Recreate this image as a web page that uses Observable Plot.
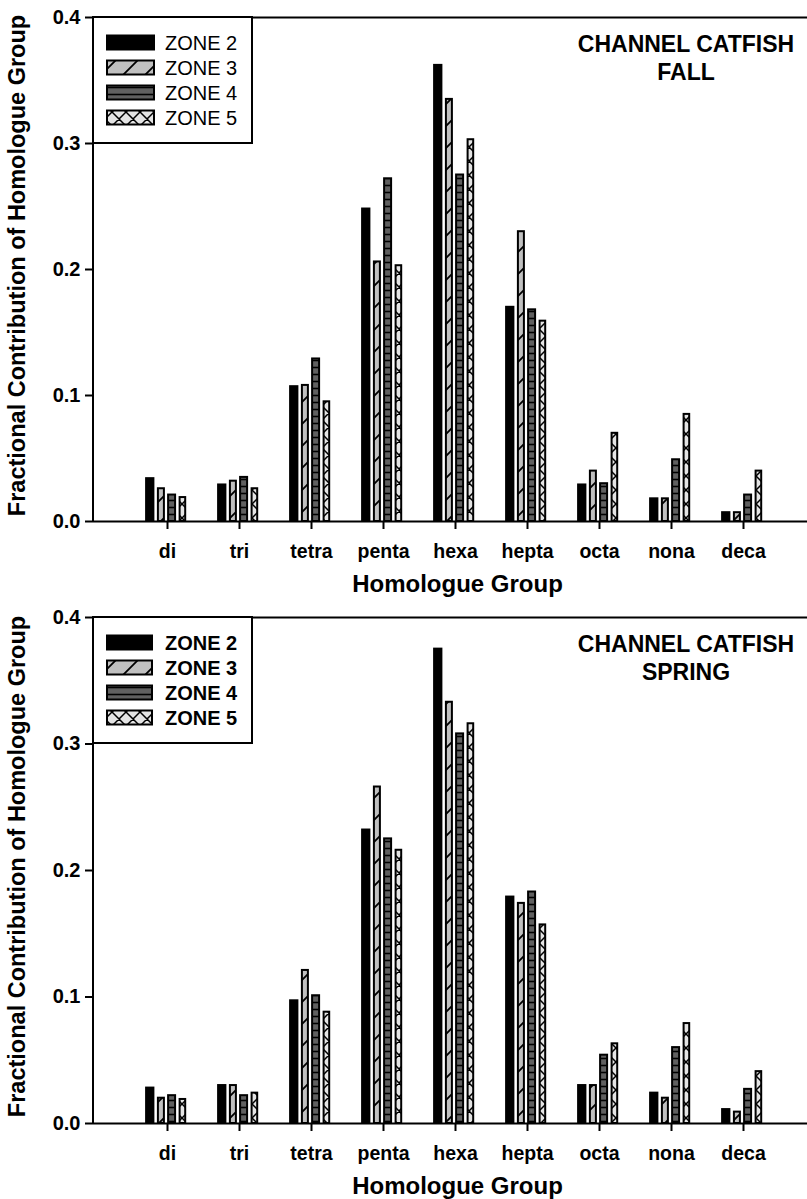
<!DOCTYPE html>
<html><head><meta charset="utf-8">
<script src="https://cdn.jsdelivr.net/npm/d3@7"></script>
<script src="https://cdn.jsdelivr.net/npm/@observablehq/plot@0.6"></script>
<style>
html,body{margin:0;padding:0;background:#fff;}
#charts svg{display:block;}
</style></head><body>
<svg width="0" height="0" style="position:absolute">
<defs>
<pattern id="pz3" patternUnits="userSpaceOnUse" width="22" height="22">
 <rect width="22" height="22" fill="#c0c0c0"/>
 <path d="M0,22 L22,0 M-3,3 L3,-3 M19,25 L25,19" stroke="#000" stroke-width="1.8" fill="none"/>
</pattern>
<pattern id="pz4" patternUnits="userSpaceOnUse" width="8" height="7">
 <rect width="8" height="7" fill="#606060"/>
 <path d="M0,3.5 H8" stroke="#000" stroke-width="1.6" fill="none"/>
</pattern>
<pattern id="pz5" patternUnits="userSpaceOnUse" width="14" height="14">
 <rect width="14" height="14" fill="#e4e4e4"/>
 <path d="M0,0 L14,14 M14,0 L0,14 M-3,3 L3,-3 M11,17 L17,11 M-3,11 L3,17 M11,-3 L17,3" stroke="#000" stroke-width="1.5" fill="none"/>
</pattern>
</defs>
</svg>
<div id="charts"></div>
<script>
const categories = ["di","tri","tetra","penta","hexa","hepta","octa","nona","deca"];
const zones = ["ZONE 2","ZONE 3","ZONE 4","ZONE 5"];
const yTicks = [0, 0.1, 0.2, 0.3, 0.4];

const fallZone2 = [0.034, 0.029, 0.107, 0.248, 0.362, 0.170, 0.029, 0.018, 0.007];
const fallZone3 = [0.026, 0.032, 0.108, 0.206, 0.335, 0.230, 0.040, 0.018, 0.007];
const fallZone4 = [0.021, 0.035, 0.129, 0.272, 0.275, 0.168, 0.030, 0.049, 0.021];
const fallZone5 = [0.019, 0.026, 0.095, 0.203, 0.303, 0.159, 0.070, 0.085, 0.040];

const springZone2 = [0.028, 0.030, 0.097, 0.232, 0.375, 0.179, 0.030, 0.024, 0.011];
const springZone3 = [0.020, 0.030, 0.121, 0.266, 0.333, 0.174, 0.030, 0.020, 0.009];
const springZone4 = [0.022, 0.022, 0.101, 0.225, 0.308, 0.183, 0.054, 0.060, 0.027];
const springZone5 = [0.019, 0.024, 0.088, 0.216, 0.316, 0.157, 0.063, 0.079, 0.041];

const zoneStyle = [
  {fill: "#000", insetLeft: 15.1, insetRight: 49.6},
  {fill: "url(#pz3)", insetLeft: 26.9, insetRight: 39.1},
  {fill: "url(#pz4)", insetLeft: 37.1, insetRight: 27.9},
  {fill: "url(#pz5)", insetLeft: 48.6, insetRight: 17.8}
];

function toRows(series) {
  const rows = [];
  series.forEach((vals, zi) => vals.forEach((v, ci) => rows.push({cat: categories[ci], zone: zones[zi], value: v})));
  return rows;
}

function legendMark(bold) {
  return (index, scales, values, dims) => {
    const g = d3.create("svg:g");
    const x0 = dims.marginLeft, y0 = dims.marginTop;
    g.append("rect").attr("x", x0).attr("y", y0).attr("width", 159).attr("height", 126)
      .attr("fill", "white").attr("stroke", "black").attr("stroke-width", 2);
    zones.forEach((z, i) => {
      const cy = y0 + 25.5 + 25 * i;
      g.append("rect").attr("x", x0 + 14).attr("y", cy - 7).attr("width", bold ? 45 : 47).attr("height", 14)
        .attr("fill", zoneStyle[i].fill).attr("stroke", "black").attr("stroke-width", 2);
      g.append("text").attr("x", x0 + 72).attr("y", cy).attr("dy", "0.36em")
        .attr("text-anchor", "start")
        .attr("font-size", 20).attr("font-weight", bold ? "bold" : "normal").attr("fill", "black").text(z);
    });
    g.append("line").attr("x1", x0).attr("x2", x0).attr("y1", y0).attr("y2", dims.height - dims.marginBottom)
      .attr("stroke", "black").attr("stroke-width", 2);
    return g.node();
  };
}

function makeChart(series, season, height, marginBottom, legendBold) {
  const rows = toRows(series);
  return Plot.plot({
    width: 807,
    height,
    marginLeft: 93,
    marginRight: 0,
    marginTop: 17,
    marginBottom,
    style: {fontFamily: "'Liberation Sans', Arial, sans-serif", fontWeight: "bold", background: "white", color: "black"},
    x: {type: "band", domain: categories, range: [130, 780], padding: 0, label: null},
    y: {domain: [0, 0.4], label: null},
    marks: [
      ...zones.map((z, i) => Plot.barY(rows.filter(d => d.zone === z), {
        x: "cat", y: "value", fill: zoneStyle[i].fill, stroke: "black", strokeWidth: 2,
        insetLeft: zoneStyle[i].insetLeft, insetRight: zoneStyle[i].insetRight
      })),
      Plot.ruleY([0, 0.4], {stroke: "black", strokeWidth: 2}),
      Plot.axisX({tickSize: 8, tickPadding: 15, fontSize: 19.5, fontWeight: "bold", strokeWidth: 2, label: null}),
      Plot.axisY({ticks: yTicks, tickFormat: d3.format(".1f"), tickSize: 8, tickPadding: 5, fontSize: 20, fontWeight: "bold", strokeWidth: 2, label: null}),
      Plot.text(["Fractional Contribution of Homologue Group"], {frameAnchor: "left", textAnchor: "middle", rotate: -90, dx: -76, dy: -4, fontSize: 23.5, fontWeight: "bold", fill: "black"}),
      Plot.text(["Homologue Group"], {frameAnchor: "bottom", dx: 7, dy: 70, fontSize: 24, fontWeight: "bold", fill: "black"}),
      Plot.text(["CHANNEL CATFISH\n" + season], {frameAnchor: "top-right", dx: -121.5, dy: 15, textAnchor: "middle", lineAnchor: "top", lineHeight: 1.2, fontSize: 23, fontWeight: "bold", fill: "black"}),
      legendMark(legendBold)
    ]
  });
}

const el = document.getElementById("charts");
el.appendChild(makeChart([fallZone2, fallZone3, fallZone4, fallZone5], "FALL", 600, 79, false));
el.appendChild(makeChart([springZone2, springZone3, springZone4, springZone5], "SPRING", 599, 76, true));
</script>
</body></html>
